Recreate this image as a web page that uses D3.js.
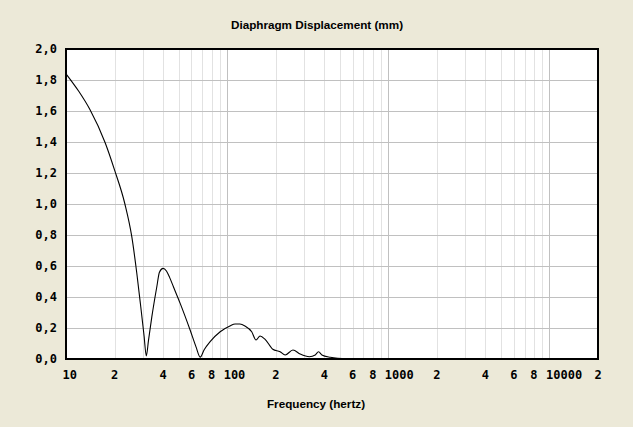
<!DOCTYPE html>
<html>
<head>
<meta charset="utf-8">
<script src="https://cdn.jsdelivr.net/npm/d3@7/dist/d3.min.js"></script>
<style>
html,body{margin:0;padding:0;background:#ECE9D8;}
svg{display:block;}
</style>
</head>
<body>
<svg id="chart" width="633" height="427"></svg>
<script>
const title = "Diaphragm Displacement (mm)";
const xTitle = "Frequency (hertz)";
const frequency = [10, 12, 14.1, 17.5, 20, 23.2, 25.6, 27.5, 29.1, 30.5, 31.5, 32.5, 34.1, 36.6, 38, 40, 42, 44, 46.4, 51.1, 58.9, 64, 68, 72, 78.4, 90.5, 104, 112, 120, 129, 142, 151, 160, 172, 192, 213, 229, 256, 284, 324, 352, 369, 387, 436, 485, 550, 700];
const displacement = [1.84, 1.727, 1.608, 1.395, 1.22, 1.0, 0.789, 0.553, 0.337, 0.15, 0.02, 0.12, 0.273, 0.466, 0.56, 0.585, 0.568, 0.525, 0.466, 0.359, 0.187, 0.08, 0.012, 0.06, 0.112, 0.176, 0.213, 0.226, 0.226, 0.213, 0.176, 0.123, 0.148, 0.127, 0.063, 0.047, 0.026, 0.058, 0.032, 0.015, 0.026, 0.047, 0.026, 0.011, 0.005, 0.003, 0.003];
const yTicks = [0, 0.2, 0.4, 0.6, 0.8, 1.0, 1.2, 1.4, 1.6, 1.8, 2.0];
const xTickValues = [10, 20, 40, 60, 80, 100, 200, 400, 600, 800, 1000, 2000, 4000, 6000, 8000, 10000, 20000];
const xTickLabels = ["10", "2", "4", "6", "8", "100", "2", "4", "6", "8", "1000", "2", "4", "6", "8", "10000", "2"];

const svg = d3.select("#chart");
const L = 66, R = 598, T = 49, B = 359;
const x = d3.scaleLog().domain([10, 20000]).range([L, R]);
const y = d3.scaleLinear().domain([0, 2]).range([B, T]);

svg.append("rect").attr("x", L).attr("y", T).attr("width", R - L).attr("height", B - T).attr("fill", "#fff");

// vertical grid
const minor = [], major = [];
for (let d = 10; d < 20000; d *= 10) {
  for (let k = 1; k <= 9; k++) {
    const v = d * k;
    if (v > 20000) break;
    if (k === 1) major.push(v); else minor.push(v);
  }
}
svg.append("g").selectAll("line").data(minor).join("line")
  .attr("x1", d => Math.round(x(d)) + 0.5).attr("x2", d => Math.round(x(d)) + 0.5)
  .attr("y1", T).attr("y2", B).attr("stroke", "#e2e2e2").attr("stroke-width", 1);
svg.append("g").selectAll("line").data(major).join("line")
  .attr("x1", d => Math.round(x(d)) + 0.5).attr("x2", d => Math.round(x(d)) + 0.5)
  .attr("y1", T).attr("y2", B).attr("stroke", "#c0c0c0").attr("stroke-width", 1);
svg.append("g").selectAll("line").data(yTicks.slice(1, -1)).join("line")
  .attr("x1", L).attr("x2", R)
  .attr("y1", d => Math.round(y(d)) + 0.5).attr("y2", d => Math.round(y(d)) + 0.5)
  .attr("stroke", "#c0c0c0").attr("stroke-width", 1);

// curve
const line = d3.line().curve(d3.curveMonotoneX).x((d, i) => x(frequency[i])).y(d => y(d));
svg.append("path").datum(displacement).attr("d", line)
  .attr("fill", "none").attr("stroke", "#000").attr("stroke-width", 1.1);

// border
svg.append("rect").attr("x", L).attr("y", T).attr("width", R - L).attr("height", B - T)
  .attr("fill", "none").attr("stroke", "#000").attr("stroke-width", 2);

const tickFont = "'DejaVu Sans Mono', 'Liberation Mono', monospace";
// y labels
svg.append("g").selectAll("text").data(yTicks).join("text")
  .attr("x", 57).attr("y", d => y(d) + 4)
  .attr("text-anchor", "end")
  .attr("font-family", tickFont).attr("font-weight", "bold").attr("font-size", 12)
  .text(d => d.toFixed(1).replace(".", ","));

// x labels
svg.append("g").selectAll("text").data(xTickValues).join("text")
  .attr("x", d => x(d) - 3.5).attr("y", 379)
  .attr("text-anchor", "start")
  .attr("font-family", tickFont).attr("font-weight", "bold").attr("font-size", 12)
  .text((d, i) => xTickLabels[i]);

svg.append("text").attr("x", 317).attr("y", 29).attr("text-anchor", "middle")
  .attr("font-family", "'Liberation Sans', Arial, sans-serif").attr("font-weight", "bold").attr("font-size", 11.7)
  .text(title);
svg.append("text").attr("x", 316).attr("y", 408).attr("text-anchor", "middle")
  .attr("font-family", "'Liberation Sans', Arial, sans-serif").attr("font-weight", "bold").attr("font-size", 11.7)
  .text(xTitle);
</script>
</body>
</html>
